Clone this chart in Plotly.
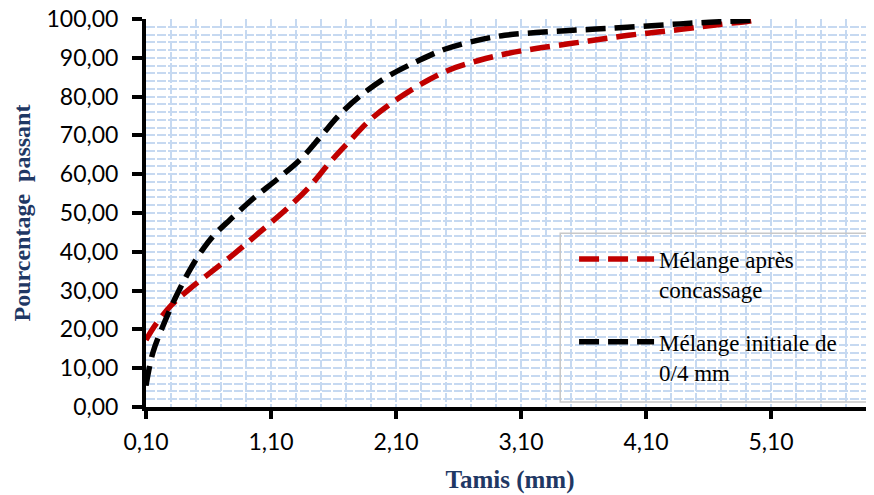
import plotly.graph_objects as go

# Data
x_apres = [0.10, 0.185, 0.305, 0.44, 0.625, 0.81, 1.00, 1.23, 1.40, 1.57, 1.73, 1.90, 2.09,
           2.30, 2.52, 2.76, 2.99, 3.22, 3.48, 3.72, 3.96, 4.21, 4.45, 4.69, 4.93, 5.00]
y_apres = [17.3, 21.6, 26.3, 30.2, 34.9, 39.6, 44.8, 51.2, 56.5, 63.0, 68.6, 74.2, 78.9,
           83.2, 86.8, 89.3, 91.1, 92.4, 93.6, 94.7, 95.8, 96.7, 97.6, 98.6, 99.5, 100.0]

x_initiale = [0.10, 0.155, 0.25, 0.345, 0.45, 0.56, 0.65, 0.77, 0.96, 1.15, 1.35, 1.50, 1.65,
              1.83, 2.04, 2.27, 2.49, 2.75, 2.97, 3.22, 3.46, 3.70, 3.95, 4.21, 4.45, 4.69,
              4.93, 5.00]
y_initiale = [5.5, 14.0, 22.0, 28.8, 35.3, 40.9, 44.5, 48.2, 53.8, 58.7, 64.3, 69.8, 75.4,
              80.6, 85.3, 89.1, 92.2, 94.5, 95.8, 96.5, 97.0, 97.4, 97.9, 98.4, 98.9, 99.3,
              99.7, 100.0]

name_apres = "Mélange après<br>concassage"
name_initiale = "Mélange initiale de<br>0/4 mm"

x_tick_vals = [0.10, 1.10, 2.10, 3.10, 4.10, 5.10]
y_tick_vals = [0, 10, 20, 30, 40, 50, 60, 70, 80, 90, 100]

x_title = "Tamis (mm)"
y_title = "Pourcentage&nbsp; passant"

grid_col = "#c6d9f1"
title_col = "#1f3864"

fig = go.Figure()
fig.add_trace(go.Scatter(
    x=x_apres, y=y_apres, mode="lines", name=name_apres, legendgroup="a",
    line=dict(color="#c00000", width=5.5, dash="20px,9px", shape="spline", smoothing=1.0),
    cliponaxis=False,
))
fig.add_trace(go.Scatter(
    x=x_initiale, y=y_initiale, mode="lines", name=name_initiale, legendgroup="b",
    line=dict(color="#000000", width=5.5, dash="20px,9px", shape="spline", smoothing=1.0),
    cliponaxis=False,
))

# legend frame (decoration)
fig.add_shape(type="rect", xref="paper", yref="paper",
              x0=0.569, x1=0.9945, y0=0.013, y1=0.448,
              line=dict(color="#c8c8c8", width=1.5), fillcolor="rgba(0,0,0,0)", layer="above")

fig.update_layout(
    width=874, height=495,
    margin=dict(l=138, r=8, t=11, b=96),
    paper_bgcolor="white", plot_bgcolor="white",
    separators=", ",
    font=dict(family="Lato", size=23, color="black"),
    showlegend=True,
    legend=dict(
        x=0.588, y=0.437, xanchor="left", yanchor="top",
        bgcolor="rgba(255,255,255,0)", borderwidth=0,
        font=dict(family="Liberation Serif", size=23, color="black"),
        traceorder="grouped", tracegroupgap=20, itemwidth=75, valign="top",
    ),
    xaxis=dict(
        range=[0.1, 5.924], tickvals=x_tick_vals, tickformat=".2f", automargin=False,
        ticklabeloverflow="allow",
        showline=True, linecolor="black", linewidth=4,
        ticks="outside", ticklen=8, tickwidth=4, tickcolor="black",
        ticklabelstandoff=3,
        showgrid=True, gridcolor=grid_col, gridwidth=1.5, griddash="9px,2px",
        zeroline=False,
        minor=dict(dtick=0.2, tick0=0.1, showgrid=True, gridcolor=grid_col,
                   gridwidth=1.5, griddash="9px,2px", ticks=""),
        title=dict(text="<b>" + x_title + "</b>", standoff=18,
                   font=dict(family="Liberation Serif", size=25, color=title_col)),
    ),
    yaxis=dict(
        range=[0, 100], tickvals=y_tick_vals, tickformat=".2f", automargin=False,
        ticklabeloverflow="allow",
        showline=True, linecolor="black", linewidth=4,
        ticks="outside", ticklen=10, tickwidth=4, tickcolor="black",
        ticklabelstandoff=9,
        showgrid=True, gridcolor=grid_col, gridwidth=1.5, griddash="9px,2px",
        zeroline=False,
        minor=dict(dtick=2, tick0=0, showgrid=True, gridcolor=grid_col,
                   gridwidth=1.5, griddash="9px,2px", ticks=""),
        title=dict(text="<b>" + y_title + "</b>", standoff=10,
                   font=dict(family="Liberation Serif", size=24, color=title_col)),
    ),
)

fig.write_html("out.html")
